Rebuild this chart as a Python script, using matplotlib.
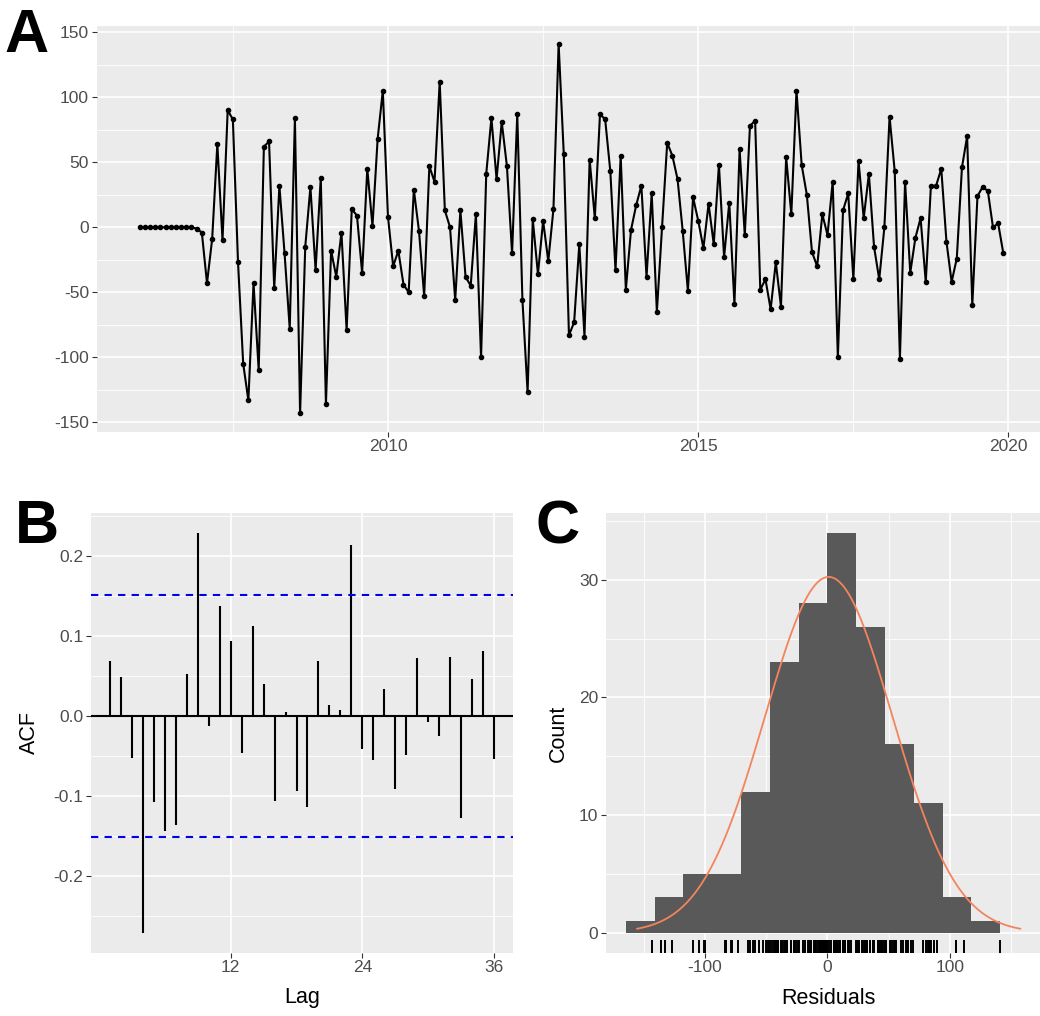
import numpy as np
import matplotlib
matplotlib.use("Agg")
import matplotlib.pyplot as plt

# monthly residuals, Jan 2006 .. Dec 2019
residuals = [
    0, 0, 0, 0, 0, 0, 0, 0, 0, 0, 0, -1,
    -4, -43, -9, 64, -10, 90, 83, -27, -105, -133, -43, -110,
    62, 66, -47, 32, -20, -78, 84, -143, -15, 31, -33, 38,
    -136, -18, -38, -4, -79, 14, 9, -35, 45, 1, 68, 105,
    8, -30, -18, -44, -50, 29, -3, -53, 47, 35, 112, 13,
    0, -56, 13, -38, -45, 10, -100, 41, 84, 37, 81, 47,
    -20, 87, -56, -127, 6, -36, 5, -26, 14, 141, 56, -83,
    -73, -13, -84, 52, 7, 87, 83, 43, -33, 55, -48, -2,
    17, 32, -38, 26, -65, 0, 65, 55, 37, -3, -49, 23,
    5, -16, 18, -13, 48, -23, 19, -59, 60, -6, 78, 82,
    -48, -40, -63, -27, -61, 54, 10, 105, 48, 25, -19, -30,
    10, -6, 35, -100, 13, 26, -40, 51, 7, 41, -15, -40,
    0, 85, 43, -101, 35, -35, -8, 7, -42, 32, 32, 45,
    -11, -42, -24, 46, 70, -60, 24, 31, 28, 0, 3, -20,
]
start_year = 2006

# autocorrelations for lags 1..36 (panel B)
acf_values = [
    0.069, 0.049, -0.053, -0.271, -0.108, -0.144, -0.136, 0.052, 0.229,
    -0.013, 0.138, 0.094, -0.046, 0.113, 0.040, -0.106, 0.005, -0.094,
    -0.114, 0.069, 0.014, 0.007, 0.214, -0.041, -0.055, 0.034, -0.091,
    -0.049, 0.073, -0.007, -0.025, 0.074, -0.127, 0.046, 0.081, -0.054,
]

# histogram of residuals (panel C)
hist_counts = [1, 3, 5, 5, 12, 23, 28, 34, 26, 16, 11, 3, 1]
bin_width = 23.55
first_bin = -7  # first edge = first_bin * bin_width

W, H = 1040, 1016
TICK_FONT = 12.5
TITLE_FONT = 15.5
FONT = "Liberation Sans"

plt.rcParams["font.family"] = [FONT, "DejaVu Sans"]
plt.rcParams["axes.unicode_minus"] = False


def px_axes(fig, left, top, right, bottom):
    return fig.add_axes([left / W, 1 - bottom / H, (right - left) / W, (bottom - top) / H])


def gg_limits(lo, hi, mult=0.05):
    pad = (hi - lo) * mult
    return lo - pad, hi + pad


def gg_style(ax):
    ax.set_facecolor("#EBEBEB")
    for s in ax.spines.values():
        s.set_visible(False)
    ax.grid(which="major", color="white", lw=1.2)
    ax.grid(which="minor", color="white", lw=0.6)
    ax.set_axisbelow(True)
    ax.tick_params(which="major", length=3.5, width=0.8, color="#333333",
                   labelcolor="#4D4D4D", labelsize=TICK_FONT, pad=2)
    ax.tick_params(which="minor", length=0)


def fig_text(fig, x, y, s, **kw):
    fig.text(x / W, 1 - y / H, s, **kw)


res = np.array(residuals, dtype=float)
n = len(res)
t = start_year + np.arange(n) / 12

fig = plt.figure(figsize=(W / 100, H / 100), dpi=100)

# ---- A: residual time series
axA = px_axes(fig, 96.6, 25.5, 1046.5, 431.7)
gg_style(axA)
axA.plot(t, res, color="black", lw=1.5, marker="o", ms=3)
axA.set_xlim(*gg_limits(t.min(), t.max()))
axA.set_ylim(*gg_limits(res.min(), res.max()))
axA.set_xticks([2010, 2015, 2020])
axA.set_xticks([2007.5, 2012.5, 2017.5], minor=True)
axA.set_yticks(np.arange(-150, 151, 50))
axA.set_yticks([-125, -75, -25, 25, 75, 125], minor=True)
axA.set_yticklabels([str(v) for v in range(-150, 151, 50)])

# ---- B: ACF
axB = px_axes(fig, 91, 512.7, 513, 952.7)
gg_style(axB)
lags = np.arange(1, len(acf_values) + 1)
acf = np.array(acf_values)
ci = 1.96 / np.sqrt(n)
axB.vlines(lags, 0, acf, color="black", lw=1.5)
axB.axhline(0, color="black", lw=1.5)
for c in (ci, -ci):
    axB.axhline(c, color="#0000EE", lw=1.5, ls=(0, (3.5, 3)))
axB.set_xlim(*gg_limits(lags.min(), lags.max()))
axB.set_ylim(*gg_limits(acf.min(), acf.max()))
axB.set_xticks([12, 24, 36])
axB.set_yticks([-0.2, -0.1, 0.0, 0.1, 0.2])
axB.set_yticklabels(["-0.2", "-0.1", "0.0", "0.1", "0.2"])
axB.set_yticks([-0.25, -0.15, -0.05, 0.05, 0.15, 0.25], minor=True)

# ---- C: histogram + normal curve + rug
axC = px_axes(fig, 606, 512.7, 1040, 952.7)
gg_style(axC)
counts = np.array(hist_counts)
edges = (first_bin + np.arange(len(counts) + 1)) * bin_width
axC.bar(edges[:-1], counts, width=bin_width, align="edge", color="#595959", lw=0)
mu, sd = res.mean(), res.std(ddof=1)
xs = np.linspace(mu - 3 * sd, mu + 3 * sd, 300)
ys = n * bin_width * np.exp(-0.5 * ((xs - mu) / sd) ** 2) / (sd * np.sqrt(2 * np.pi))
axC.plot(xs, ys, color="#F4845C", lw=1.3)
axC.vlines(res, 0, 0.03, transform=axC.get_xaxis_transform(), color="black", lw=1.4)
axC.set_xlim(*gg_limits(min(edges[0], xs[0]), max(edges[-1], xs[-1])))
axC.set_ylim(*gg_limits(0, counts.max()))
axC.set_xticks([-100, 0, 100])
axC.set_xticklabels(["-100", "0", "100"])
axC.set_xticks([-150, -50, 50, 150], minor=True)
axC.set_yticks([0, 10, 20, 30])
axC.set_yticks([5, 15, 25, 35], minor=True)

# axis titles
fig_text(fig, 29, 733, "ACF", rotation=90, ha="center", va="center", fontsize=TITLE_FONT)
fig_text(fig, 302, 998, "Lag", ha="center", va="center", fontsize=TITLE_FONT)
fig_text(fig, 558, 733, "Count", rotation=90, ha="center", va="center", fontsize=TITLE_FONT)
fig_text(fig, 828, 998, "Residuals", ha="center", va="center", fontsize=TITLE_FONT)

# panel letters
for x, y, s in [(4, 52, "A"), (15, 543, "B"), (535, 543, "C")]:
    fig_text(fig, x, y, s, ha="left", va="baseline", fontsize=44, fontweight="bold")

fig.savefig("out.png", dpi=100, facecolor="white")
